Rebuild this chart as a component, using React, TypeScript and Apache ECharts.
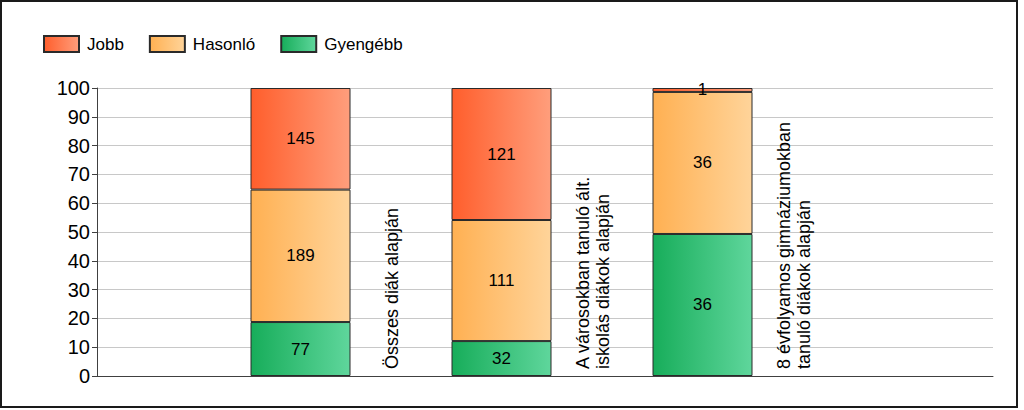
import React, { useEffect, useRef } from "react";
import * as echarts from "echarts";

const categories = [
  "Összes diák alapján",
  "A városokban tanuló ált.\niskolás diákok alapján",
  "8 évfolyamos gimnáziumokban\ntanuló diákok alapján",
];
const seriesNames = ["Jobb", "Hasonló", "Gyengébb"];
const jobb = [145, 121, 1];
const hasonlo = [189, 111, 36];
const gyengebb = [77, 32, 36];
const yTicks = { min: 0, max: 100, interval: 10 };

const FONT = "'Liberation Sans', Arial, Helvetica, sans-serif";

const grad = (a: string, b: string) =>
  new echarts.graphic.LinearGradient(0, 0, 1, 0, [
    { offset: 0, color: a },
    { offset: 1, color: b },
  ]);

export default function App() {
  const ref = useRef<HTMLDivElement>(null);
  useEffect(() => {
    if (!ref.current) return;
    const chart = echarts.init(ref.current, undefined, { renderer: "svg" });
    const totals = jobb.map((_, i) => jobb[i] + hasonlo[i] + gyengebb[i]);
    const mk = (arr: number[]) =>
      arr.map((v, i) => ({ value: (v / totals[i]) * 100, count: v }));
    const barCommon = {
      type: "bar",
      stack: "total",
      xAxisIndex: 1,
      yAxisIndex: 1,
      barWidth: 100,
      label: {
        show: true,
        position: "inside",
        color: "#000",
        fontSize: 17,
        fontFamily: FONT,
        formatter: (p: any) => String(p.data.count),
      },
      emphasis: { disabled: true },
    };
    const border = { borderColor: "#2a2a2a", borderWidth: 1 };
    chart.setOption({
      animation: false,
      backgroundColor: "#fff",
      graphic: [
        {
          type: "rect",
          shape: { x: 1, y: 1, width: 1016, height: 406 },
          style: { fill: "none", stroke: "#1a1a1a", lineWidth: 2 },
          silent: true,
        },
      ],
      legend: {
        left: 43,
        top: 35,
        padding: 0,
        itemWidth: 35,
        itemHeight: 16,
        itemGap: 25,
        icon: "rect",
        data: seriesNames,
        textStyle: { fontSize: 17, fontFamily: FONT, color: "#000", padding: [0, 0, 0, 3] },
      },
      grid: [
        { left: 97, right: 31, top: 88, bottom: 34 },
        { left: 200, width: 603, top: 88, bottom: 34 },
      ],
      xAxis: [
        {
          type: "value",
          gridIndex: 0,
          min: 0,
          max: 1,
          axisLine: { show: true, onZero: false, lineStyle: { color: "#404040", width: 1 } },
          axisTick: { show: false },
          axisLabel: { show: false },
          splitLine: { show: false },
        },
        {
          type: "category",
          gridIndex: 1,
          data: categories,
          show: false,
        },
      ],
      yAxis: [
        {
          type: "value",
          gridIndex: 0,
          min: yTicks.min,
          max: yTicks.max,
          interval: yTicks.interval,
          axisLine: { show: true, lineStyle: { color: "#404040", width: 1 } },
          axisTick: { show: true, length: 5, lineStyle: { color: "#404040" } },
          axisLabel: { fontSize: 20, fontFamily: FONT, color: "#000", margin: 7 },
          splitLine: { show: true, lineStyle: { color: "#c8c8c8", width: 1 } },
        },
        {
          type: "value",
          gridIndex: 1,
          min: yTicks.min,
          max: yTicks.max,
          show: false,
          splitLine: { show: false },
        },
      ],
      series: [
        {
          ...barCommon,
          name: "Gyengébb",
          data: mk(gyengebb),
          itemStyle: { ...border, color: grad("#17ad5a", "#5fd69c") },
        },
        {
          ...barCommon,
          name: "Hasonló",
          data: mk(hasonlo),
          itemStyle: { ...border, color: grad("#ffb052", "#ffd49a") },
        },
        {
          ...barCommon,
          name: "Jobb",
          data: mk(jobb),
          itemStyle: { ...border, color: grad("#ff5e2c", "#ff9e7c") },
        },
        {
          type: "custom",
          name: "labels",
          xAxisIndex: 1,
          yAxisIndex: 1,
          clip: false,
          silent: true,
          data: categories.map((_, i) => [i, 0]),
          renderItem: (params: any, api: any) => {
            const pt = api.coord([api.value(0), 0]);
            const text = categories[params.dataIndex];
            return {
              type: "text",
              x: pt[0] + 91,
              y: pt[1] - 7,
              rotation: Math.PI / 2,
              style: {
                text,
                fill: "#000",
                font: `18px ${FONT}`,
                align: "left",
                verticalAlign: "middle",
                lineHeight: 20,
              },
            };
          },
        },
      ],
    });
    return () => chart.dispose();
  }, []);
  return (
    <div
      ref={ref}
      style={{ position: "absolute", left: 0, top: 0, width: 1024, height: 410 }}
    />
  );
}
